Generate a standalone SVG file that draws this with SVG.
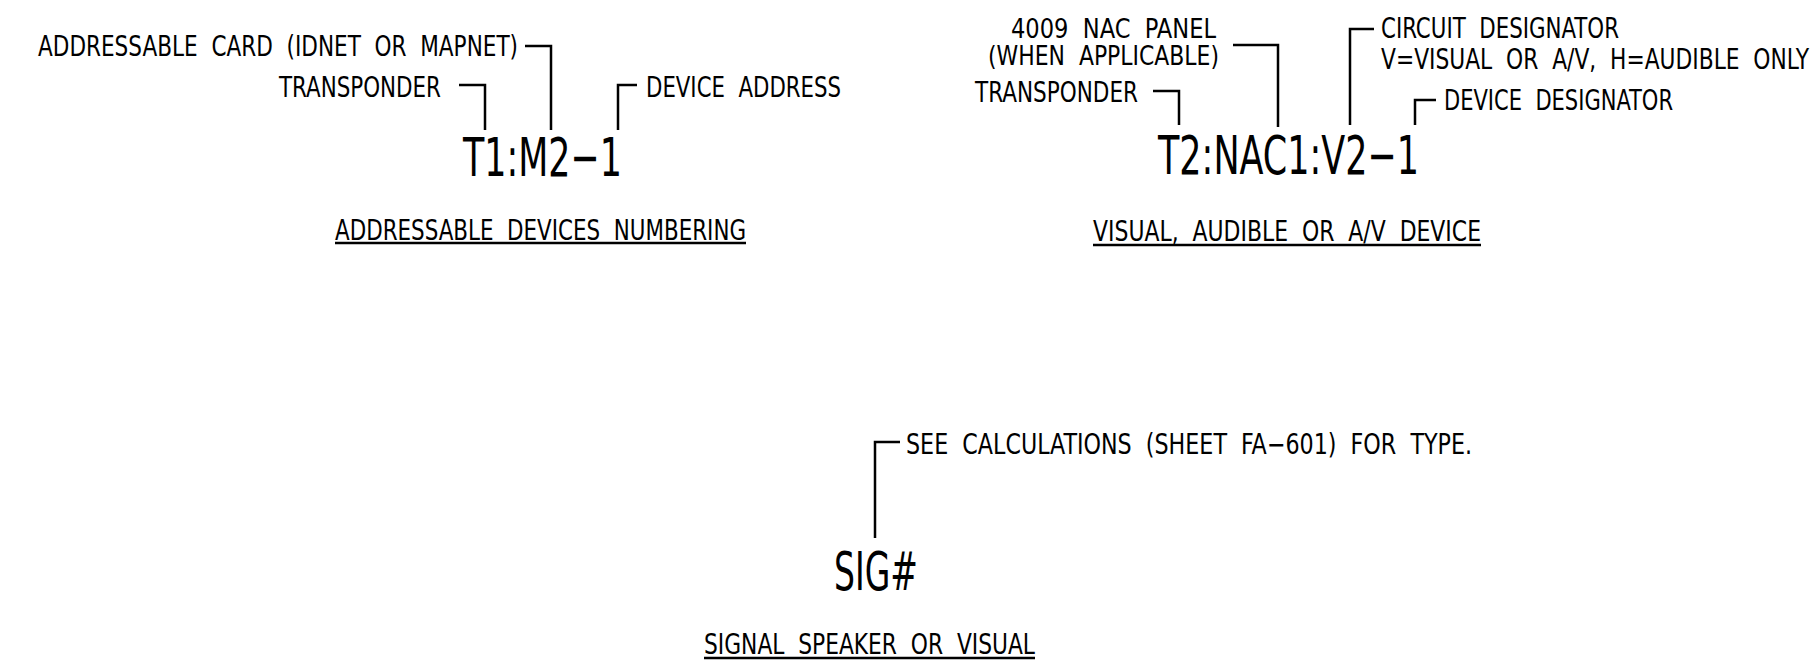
<svg xmlns="http://www.w3.org/2000/svg" width="1816" height="667" viewBox="0 0 1816 667">
<style>
text{font-family:"Liberation Sans Narrow","DejaVu Sans Condensed","Liberation Sans",sans-serif;fill:#000;white-space:pre;}
.s{font-size:28px;}
.m{font-size:27px;}
.b{font-size:54px;}
.ld{fill:none;stroke:#000;stroke-width:2.5;}
</style>
<rect width="1816" height="667" fill="#fff"/>
<g id="addressable">
<text class="s" x="38" y="56" textLength="480" lengthAdjust="spacingAndGlyphs">ADDRESSABLE  CARD  (IDNET  OR  MAPNET)</text>
<text class="s" x="279" y="97" textLength="162" lengthAdjust="spacingAndGlyphs">TRANSPONDER</text>
<text class="s" x="646" y="97" textLength="195" lengthAdjust="spacingAndGlyphs">DEVICE  ADDRESS</text>
<text class="b" x="463" y="176" textLength="159" lengthAdjust="spacingAndGlyphs">T1:M2−1</text>
<text class="s" x="335" y="240" textLength="411" lengthAdjust="spacingAndGlyphs">ADDRESSABLE  DEVICES  NUMBERING</text>
<line class="ld" x1="335" y1="243" x2="746" y2="243"/>
</g>
<g id="visual">
<text class="m" x="1011" y="38" textLength="205" lengthAdjust="spacingAndGlyphs">4009  NAC  PANEL</text>
<text class="m" x="988" y="65" textLength="231" lengthAdjust="spacingAndGlyphs">(WHEN  APPLICABLE)</text>
<text class="s" x="975" y="102" textLength="163" lengthAdjust="spacingAndGlyphs">TRANSPONDER</text>
<text class="s" x="1381" y="38" textLength="238" lengthAdjust="spacingAndGlyphs">CIRCUIT  DESIGNATOR</text>
<text class="s" x="1381" y="69" textLength="428" lengthAdjust="spacingAndGlyphs">V=VISUAL  OR  A/V,  H=AUDIBLE  ONLY</text>
<text class="s" x="1444" y="110" textLength="229" lengthAdjust="spacingAndGlyphs">DEVICE  DESIGNATOR</text>
<text class="b" x="1158" y="174" textLength="261" lengthAdjust="spacingAndGlyphs">T2:NAC1:V2−1</text>
<text class="s" x="1093" y="241" textLength="388" lengthAdjust="spacingAndGlyphs">VISUAL,  AUDIBLE  OR  A/V  DEVICE</text>
<line class="ld" x1="1093" y1="245" x2="1481" y2="245"/>
</g>
<g id="signal">
<text class="s" x="906" y="454" textLength="566" lengthAdjust="spacingAndGlyphs">SEE  CALCULATIONS  (SHEET  FA−601)  FOR  TYPE.</text>
<text class="b" x="834" y="590" textLength="84" lengthAdjust="spacingAndGlyphs">SIG#</text>
<text class="s" x="704" y="654" textLength="331" lengthAdjust="spacingAndGlyphs">SIGNAL  SPEAKER  OR  VISUAL</text>
<line class="ld" x1="704" y1="658" x2="1035" y2="658"/>
</g>
<g id="connectors">
<path class="ld" d="M525 46H551V130"/>
<path class="ld" d="M459 85H485V130"/>
<path class="ld" d="M618 130V85H637"/>
<path class="ld" d="M1233 45H1278V127"/>
<path class="ld" d="M1153 91H1179V125"/>
<path class="ld" d="M1374 29H1350V125"/>
<path class="ld" d="M1415 125V100H1436"/>
<path class="ld" d="M900 442H875V538"/>
</g>
</svg>
